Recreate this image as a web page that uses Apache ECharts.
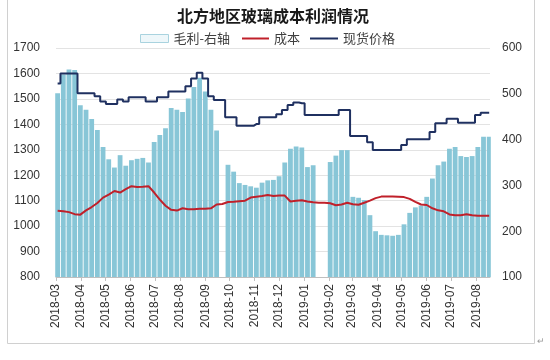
<!DOCTYPE html>
<html>
<head>
<meta charset="utf-8">
<script src="https://cdn.jsdelivr.net/npm/echarts@6/dist/echarts.min.js"></script>
<style>
html,body{margin:0;padding:0;background:#fff;}
#c{width:550px;height:360px;}
</style>
</head>
<body>
<div id="c"></div>
<script>
// Weekly observation dates
const weeks = [
 '2018-03-03','2018-03-10','2018-03-17','2018-03-24','2018-03-31',
 '2018-04-07','2018-04-14','2018-04-21','2018-04-28',
 '2018-05-05','2018-05-12','2018-05-19','2018-05-26',
 '2018-06-02','2018-06-09','2018-06-16','2018-06-23','2018-06-30',
 '2018-07-07','2018-07-14','2018-07-21','2018-07-28',
 '2018-08-04','2018-08-11','2018-08-18','2018-08-25',
 '2018-09-01','2018-09-08','2018-09-15','2018-09-22','2018-09-29',
 '2018-10-06','2018-10-13','2018-10-20','2018-10-27',
 '2018-11-03','2018-11-10','2018-11-17','2018-11-24',
 '2018-12-01','2018-12-08','2018-12-15','2018-12-22','2018-12-29',
 '2019-01-05','2019-01-12','2019-01-19','2019-01-26',
 '2019-02-02','2019-02-09','2019-02-16','2019-02-23',
 '2019-03-02','2019-03-09','2019-03-16','2019-03-23','2019-03-30',
 '2019-04-06','2019-04-13','2019-04-20','2019-04-27',
 '2019-05-04','2019-05-11','2019-05-18','2019-05-25',
 '2019-06-01','2019-06-08','2019-06-15','2019-06-22','2019-06-29',
 '2019-07-06','2019-07-13','2019-07-20','2019-07-27',
 '2019-08-03','2019-08-10','2019-08-17'
];
// 毛利 (right axis)
const profit = [
 501,542,553,552,475,465,445,421,384,357,
 339,366,343,355,358,360,350,395,410,425,
 469,465,460,490,515,535,505,465,420,null,
 345,330,305,301,298,295,306,311,312,320,
 350,380,385,383,340,344,null,null,351,365,
 377,377,275,273,268,235,200,192,191,190,
 192,215,240,252,256,275,315,344,352,380,
 384,364,362,364,384,406,406
];
// 成本 (left axis)
const cost = [
 1060,1058,1055,1047,1045,1062,1075,1091,1112,1124,
 1138,1132,1145,1157,1154,1155,1157,1132,1104,1080,
 1064,1061,1070,1066,1066,1068,1068,1070,1085,1087,
 1095,1096,1098,1100,1112,1115,1118,1122,1118,1120,
 1120,1097,1100,1102,1097,1094,1092,1092,1090,1082,
 1085,1092,1086,1084,1092,1100,1110,1116,1116,1116,
 1115,1114,1107,1095,1085,1083,1070,1062,1058,1046,
 1043,1043,1047,1043,1041,1041,1041
];
// 现货价格 (left axis)
const price = [
 1560,1600,1600,1600,1522,1522,1522,1510,1490,1480,
 1480,1498,1490,1506,1506,1506,1490,1490,1506,1506,
 1529,1529,1529,1550,1580,1603,1580,1510,1496,1496,
 1428,1428,1394,1394,1394,1401,1428,1428,1428,1440,
 1456,1476,1486,1483,1437,1437,1437,1437,1437,1437,
 1456,1456,1354,1354,1354,1330,1299,1299,1299,1299,
 1299,1319,1341,1341,1341,1341,1370,1404,1404,1422,
 1422,1406,1406,1406,1437,1446,1446
];
const leftTicks = [800, 1700, 100];   // min, max, step
const rightTicks = [100, 600, 100];
const axisRange = ['2018-03-01', '2019-08-18'];

// daily category axis so that month ticks fall on real month starts
const days = [];
(function(){
  let t = Date.parse(axisRange[0] + 'T00:00:00Z');
  const end = Date.parse(axisRange[1] + 'T00:00:00Z');
  while (t <= end) { days.push(new Date(t).toISOString().slice(0,10)); t += 86400000; }
})();
function pair(arr){ return weeks.map((d,i)=>[d, arr[i]]); }
const isMonthStart = (idx, val) => val.slice(8) === '01';

const chart = echarts.init(document.getElementById('c'), null, {renderer:'canvas'});
const font = 'Liberation Sans, Arial, sans-serif';
const cjk = 'Noto Sans CJK SC, sans-serif';
const legendText = {fontFamily: cjk, fontSize: 13, color: '#404040'};

chart.setOption({
  animation: false,
  backgroundColor: '#fff',
  title: {
    text: '北方地区玻璃成本利润情况',
    left: 268, top: 3, textAlign: 'center',
    textStyle: {fontFamily: cjk, fontSize: 16, fontWeight: 'bold', color: '#1a1a1a'}
  },
  legend: [
    {left: 135, top: 27, itemWidth: 28, itemHeight: 8, textStyle: legendText,
     data: [{name: '毛利-右轴', icon: 'rect', itemStyle: {color: '#eef7fa', borderColor: '#a9d3df', borderWidth: 1}}]},
    {left: 237, top: 27, itemWidth: 27, itemHeight: 2, textStyle: legendText,
     data: [{name: '成本', icon: 'rect', itemStyle: {color: '#c0202a'}}]},
    {left: 305, top: 27, itemWidth: 28, itemHeight: 2, textStyle: legendText,
     data: [{name: '现货价格', icon: 'rect', itemStyle: {color: '#1f3060'}}]}
  ],
  grid: {left: 56, right: 60, top: 48, bottom: 83, containLabel: false},
  xAxis: {
    type: 'category', data: days, boundaryGap: false,
    axisLine: {show: true, lineStyle: {color: '#bfbfbf', width: 1}},
    axisTick: {show: true, length: 4, interval: isMonthStart, lineStyle: {color: '#bfbfbf'}},
    splitLine: {show: false},
    axisLabel: {
      rotate: 90, margin: 7, fontFamily: font, fontSize: 12, color: '#333',
      interval: isMonthStart, hideOverlap: false,
      formatter: v => v.slice(0, 7)
    }
  },
  yAxis: [
    {
      type: 'value', min: leftTicks[0], max: leftTicks[1], interval: leftTicks[2],
      axisLine: {show: false}, axisTick: {show: false},
      splitLine: {show: true, lineStyle: {color: '#e3e3e3', width: 1}},
      axisLabel: {fontFamily: font, fontSize: 12, color: '#333', margin: 16, formatter: v => String(v)}
    },
    {
      type: 'value', min: rightTicks[0], max: rightTicks[1], interval: rightTicks[2],
      axisLine: {show: false}, axisTick: {show: false},
      splitLine: {show: false},
      axisLabel: {fontFamily: font, fontSize: 12, color: '#333', margin: 12, formatter: v => String(v)}
    }
  ],
  series: [
    {
      name: '毛利-右轴', type: 'bar', yAxisIndex: 1,
      data: pair(profit), barWidth: 4.8,
      itemStyle: {color: '#88c6d7'}, z: 1
    },
    {
      name: '成本', type: 'line', yAxisIndex: 0,
      data: pair(cost), symbol: 'none', smooth: false,
      lineStyle: {color: '#c0202a', width: 2}, itemStyle: {color: '#c0202a'}, z: 3
    },
    {
      name: '现货价格', type: 'line', yAxisIndex: 0,
      data: pair(price), symbol: 'none', step: 'middle',
      lineStyle: {color: '#1f3060', width: 2}, itemStyle: {color: '#1f3060'}, z: 4
    }
  ],
  graphic: [
    {type: 'polyline', shape: {points: [[7.5, 0], [7.5, 343.5], [534.5, 343.5], [534.5, 0]]},
     style: {stroke: '#d0d0d0', lineWidth: 1, fill: null}, silent: true},
    {type: 'text', left: 537, top: 337, style: {text: '↵', fontSize: 9, fill: '#999'}}
  ]
});
</script>
</body>
</html>
